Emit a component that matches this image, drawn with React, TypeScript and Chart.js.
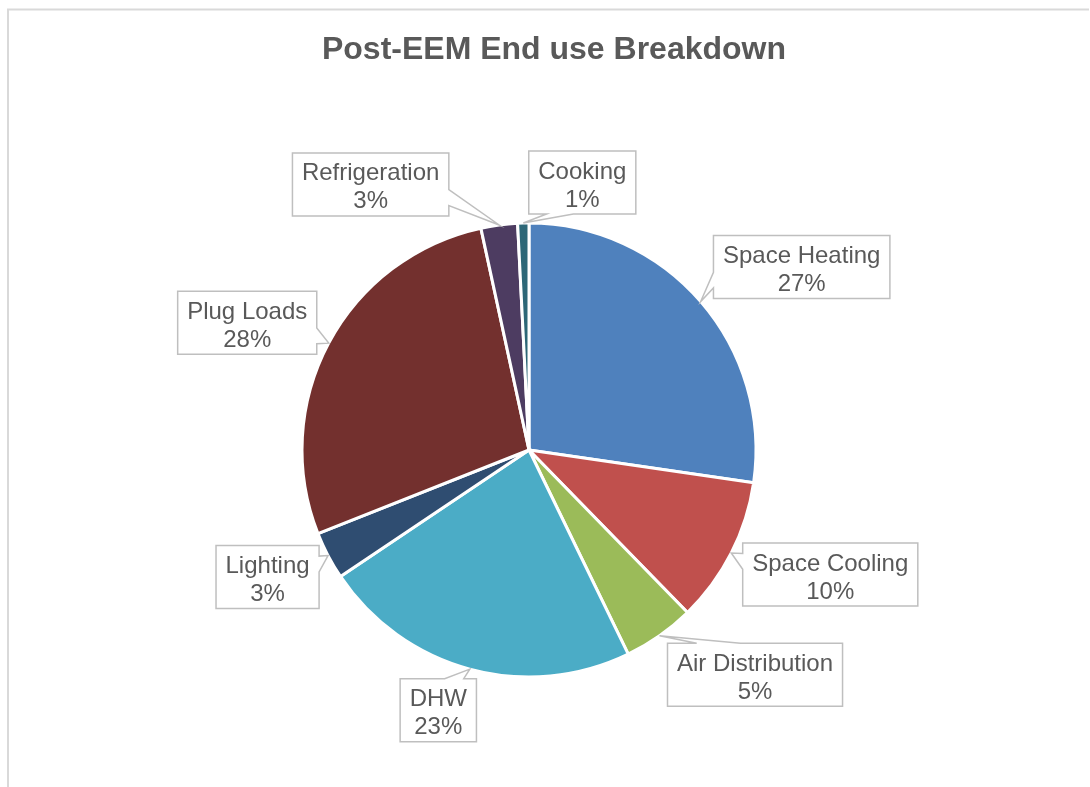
import React, { useEffect, useRef } from "react";
import { Chart, registerables } from "chart.js";

Chart.register(...registerables);

const chartTitle = "Post-EEM End use Breakdown";
const categories = [
  "Space Heating",
  "Space Cooling",
  "Air Distribution",
  "DHW",
  "Lighting",
  "Plug Loads",
  "Refrigeration",
  "Cooking",
];
const values = [27.3, 10.4, 5.1, 22.8, 3.4, 27.6, 2.6, 0.8];
const sliceColors = [
  "#4F81BD",
  "#C0504D",
  "#9BBB59",
  "#4BACC6",
  "#2F4D71",
  "#73302E",
  "#4D3C61",
  "#2D6777",
];
// label box centre offset from the callout tip (layout only)
const labelOffsets: [number, number][] = [
  [101, -34.5],
  [99, 21.5],
  [95.5, 39],
  [-31.5, 41],
  [-60.5, 21.5],
  [-81.5, -20.5],
  [-128.5, -40.5],
  [59, -40.5],
];

const FONT = '"Liberation Sans", Arial, sans-serif';
const TEXT_COLOR = "#595959";

function calloutPath(
  ctx: CanvasRenderingContext2D,
  l: number,
  t: number,
  w: number,
  h: number,
  xPos: number,
  yPos: number
) {
  const r = l + w;
  const b = t + h;
  const hc = l + w / 2;
  const vc = t + h / 2;
  const dxPos = xPos - hc;
  const dyPos = yPos - vc;
  const dq = (dxPos * h) / w;
  const dz = Math.abs(dyPos) - Math.abs(dq);
  const x1 = l + (w * (dxPos > 0 ? 7 : 2)) / 12;
  const x2 = l + (w * (dxPos > 0 ? 10 : 5)) / 12;
  const y1 = t + (h * (dyPos > 0 ? 7 : 2)) / 12;
  const y2 = t + (h * (dyPos > 0 ? 10 : 5)) / 12;
  let side = "";
  if (dz > 0) side = dyPos < 0 ? "top" : "bottom";
  else side = dxPos < 0 ? "left" : "right";

  ctx.beginPath();
  ctx.moveTo(l, t);
  if (side === "top") {
    ctx.lineTo(x1, t);
    ctx.lineTo(xPos, yPos);
    ctx.lineTo(x2, t);
  }
  ctx.lineTo(r, t);
  if (side === "right") {
    ctx.lineTo(r, y1);
    ctx.lineTo(xPos, yPos);
    ctx.lineTo(r, y2);
  }
  ctx.lineTo(r, b);
  if (side === "bottom") {
    ctx.lineTo(x2, b);
    ctx.lineTo(xPos, yPos);
    ctx.lineTo(x1, b);
  }
  ctx.lineTo(l, b);
  if (side === "left") {
    ctx.lineTo(l, y2);
    ctx.lineTo(xPos, yPos);
    ctx.lineTo(l, y1);
  }
  ctx.closePath();
}

const decorPlugin = {
  id: "decor",
  beforeDraw(chart: any) {
    const ctx = chart.ctx as CanvasRenderingContext2D;
    ctx.save();
    ctx.fillStyle = "#ffffff";
    ctx.fillRect(0, 0, chart.width, chart.height);
    ctx.strokeStyle = "#D9D9D9";
    ctx.lineWidth = 2;
    ctx.beginPath();
    ctx.moveTo(8, chart.height);
    ctx.lineTo(8, 9.5);
    ctx.lineTo(1089, 9.5);
    ctx.stroke();
    ctx.fillStyle = TEXT_COLOR;
    ctx.font = `bold 32px ${FONT}`;
    ctx.textAlign = "center";
    ctx.textBaseline = "alphabetic";
    ctx.fillText(chartTitle, 554, 59);
    ctx.restore();
  },
  afterDatasetsDraw(chart: any) {
    const ctx = chart.ctx as CanvasRenderingContext2D;
    const meta = chart.getDatasetMeta(0);
    const total = values.reduce((a, v) => a + v, 0);
    ctx.save();
    ctx.font = `24px ${FONT}`;
    meta.data.forEach((arc: any, i: number) => {
      const p = arc.getProps(["x", "y", "startAngle", "endAngle", "outerRadius"], true);
      const mid = (p.startAngle + p.endAngle) / 2;
      const tx = p.x + Math.cos(mid) * p.outerRadius;
      const ty = p.y + Math.sin(mid) * p.outerRadius;
      const line1 = categories[i];
      const line2 = `${Math.round((values[i] / total) * 100)}%`;
      const tw = Math.max(ctx.measureText(line1).width, ctx.measureText(line2).width);
      const w = tw + 19;
      const h = 63;
      const cx = tx + labelOffsets[i][0];
      const cy = ty + labelOffsets[i][1];
      const l = cx - w / 2;
      const t = cy - h / 2;
      calloutPath(ctx, l, t, w, h, tx, ty);
      ctx.fillStyle = "#ffffff";
      ctx.fill();
      ctx.strokeStyle = "#BFBFBF";
      ctx.lineWidth = 1.5;
      ctx.stroke();
      ctx.fillStyle = TEXT_COLOR;
      ctx.textAlign = "center";
      ctx.textBaseline = "alphabetic";
      ctx.fillText(line1, cx, cy - 4);
      ctx.fillText(line2, cx, cy + 24);
    });
    ctx.restore();
  },
};

export default function App() {
  const canvasRef = useRef<HTMLCanvasElement | null>(null);

  useEffect(() => {
    if (!canvasRef.current) return;
    const chart = new Chart(canvasRef.current, {
      type: "pie",
      data: {
        labels: categories,
        datasets: [
          {
            data: values,
            backgroundColor: sliceColors,
            borderColor: "#ffffff",
            borderWidth: 3,
          },
        ],
      },
      options: {
        animation: false,
        responsive: false,
        events: [],
        radius: 227,
        layout: { padding: { left: 229, right: 261, top: 200, bottom: 87 } },
        plugins: {
          legend: { display: false },
          tooltip: { enabled: false },
          title: { display: false },
        },
      } as any,
      plugins: [decorPlugin],
    });
    return () => chart.destroy();
  }, []);

  return (
    <div style={{ position: "fixed", left: 0, top: 0, width: 1090, height: 787, background: "#fff" }}>
      <canvas ref={canvasRef} width={1090} height={787} style={{ display: "block" }} />
    </div>
  );
}
